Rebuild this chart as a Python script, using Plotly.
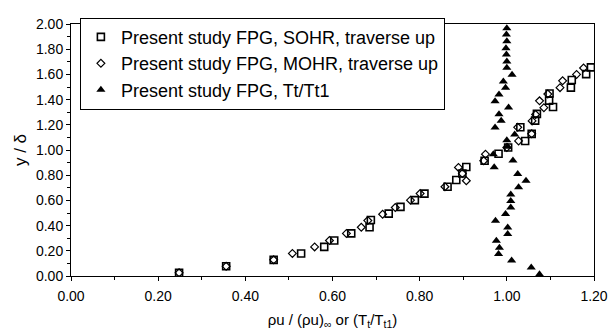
import plotly.graph_objects as go

# SOHR (squares)
sohr_x = [0.248, 0.356, 0.465, 0.528, 0.581, 0.604, 0.643, 0.685, 0.688, 0.729,
          0.756, 0.789, 0.811, 0.864, 0.884, 0.898, 0.907, 0.949, 0.981, 1.003,
          1.042, 1.057, 1.031, 1.065, 1.069, 1.106, 1.097, 1.098, 1.147, 1.149,
          1.182, 1.193]
sohr_y = [0.025, 0.077, 0.128, 0.179, 0.231, 0.282, 0.338, 0.387, 0.444, 0.495,
          0.549, 0.602, 0.654, 0.708, 0.762, 0.813, 0.865, 0.915, 0.970, 1.020,
          1.072, 1.128, 1.180, 1.233, 1.287, 1.341, 1.392, 1.448, 1.495, 1.556,
          1.602, 1.656]

# MOHR (diamonds)
mohr_x = [0.248, 0.356, 0.465, 0.508, 0.559, 0.593, 0.632, 0.666, 0.681, 0.715,
          0.744, 0.779, 0.801, 0.858, 0.907, 0.898, 0.889, 0.947, 0.951, 1.000,
          1.027, 1.057, 1.025, 1.058, 1.066, 1.085, 1.075, 1.094, 1.122, 1.128,
          1.160, 1.176]
mohr_y = [0.025, 0.077, 0.128, 0.179, 0.231, 0.282, 0.338, 0.387, 0.440, 0.490,
          0.544, 0.602, 0.654, 0.708, 0.756, 0.813, 0.862, 0.915, 0.967, 1.020,
          1.072, 1.128, 1.180, 1.231, 1.282, 1.336, 1.390, 1.444, 1.495, 1.549,
          1.600, 1.651]

# Tt/Tt1 (filled triangles)
tt_x = [1.075, 1.056, 1.011, 0.981, 0.983, 0.976, 1.002, 1.002, 0.974, 0.997,
        1.009, 1.009, 1.009, 1.027, 1.044, 1.025, 0.971, 1.014, 0.969, 1.002,
        1.000, 1.018, 0.973, 0.987, 0.982, 1.004, 0.973, 0.982, 0.997, 0.992,
        1.012, 1.000, 1.000, 0.999, 0.998, 1.000, 0.999, 1.000]
tt_y = [0.013, 0.067, 0.123, 0.175, 0.225, 0.279, 0.333, 0.385, 0.438, 0.492,
        0.544, 0.595, 0.646, 0.705, 0.756, 0.810, 0.863, 0.917, 0.966, 1.026,
        1.077, 1.124, 1.178, 1.232, 1.284, 1.337, 1.386, 1.441, 1.495, 1.543,
        1.598, 1.652, 1.703, 1.757, 1.808, 1.864, 1.916, 1.966]

names = ["Present study FPG, SOHR, traverse up",
         "Present study FPG, MOHR, traverse up",
         "Present study FPG, Tt/Tt1"]

FONT = "Liberation Sans, Arial"

fig = go.Figure()
fig.add_trace(go.Scatter(x=sohr_x, y=sohr_y, mode="markers", name=names[0],
                         marker=dict(symbol="square-open", size=7, color="black",
                                     line=dict(width=1.6, color="black"))))
fig.add_trace(go.Scatter(x=mohr_x, y=mohr_y, mode="markers", name=names[1],
                         marker=dict(symbol="diamond-open", size=6, color="black",
                                     line=dict(width=1.2, color="black"))))
fig.add_trace(go.Scatter(x=tt_x, y=tt_y, mode="markers", name=names[2],
                         marker=dict(symbol="triangle-up", size=8, color="black",
                                     line=dict(width=0))))

axis_common = dict(showline=True, linecolor="black", linewidth=1, mirror=True,
                   showgrid=False, zeroline=False, ticks="outside", ticklen=4,
                   tickcolor="black", tickformat=".2f",
                   tickfont=dict(family=FONT, size=14, color="black"),
                   minor=dict(ticks="outside", ticklen=3, tickcolor="black", dtick=0.1))

fig.update_xaxes(range=[0, 1.2], dtick=0.2, tick0=0, ticklabelstandoff=3, **axis_common,
                 title=dict(text="ρu / (ρu)<sub>∞</sub> or (T<sub>t</sub>/T<sub>t1</sub>)",
                            font=dict(family=FONT, size=15, color="black"),
                            standoff=11))
fig.update_yaxes(range=[0, 2.0], dtick=0.2, tick0=0, **axis_common,
                 title=dict(text="y / δ",
                            font=dict(family=FONT, size=17, color="black"),
                            standoff=5))

fig.update_layout(
    width=608, height=327,
    margin=dict(l=63, r=18, t=8, b=59),
    paper_bgcolor="white", plot_bgcolor="white",
    font=dict(family=FONT, color="black"),
    legend=dict(x=0.017, y=1.025, xanchor="left", yanchor="top",
                bgcolor="white", bordercolor="black", borderwidth=1,
                font=dict(family=FONT, size=18, color="black"),
                itemwidth=30, tracegroupgap=0),
    showlegend=True,
)

fig.write_html("out.html")
